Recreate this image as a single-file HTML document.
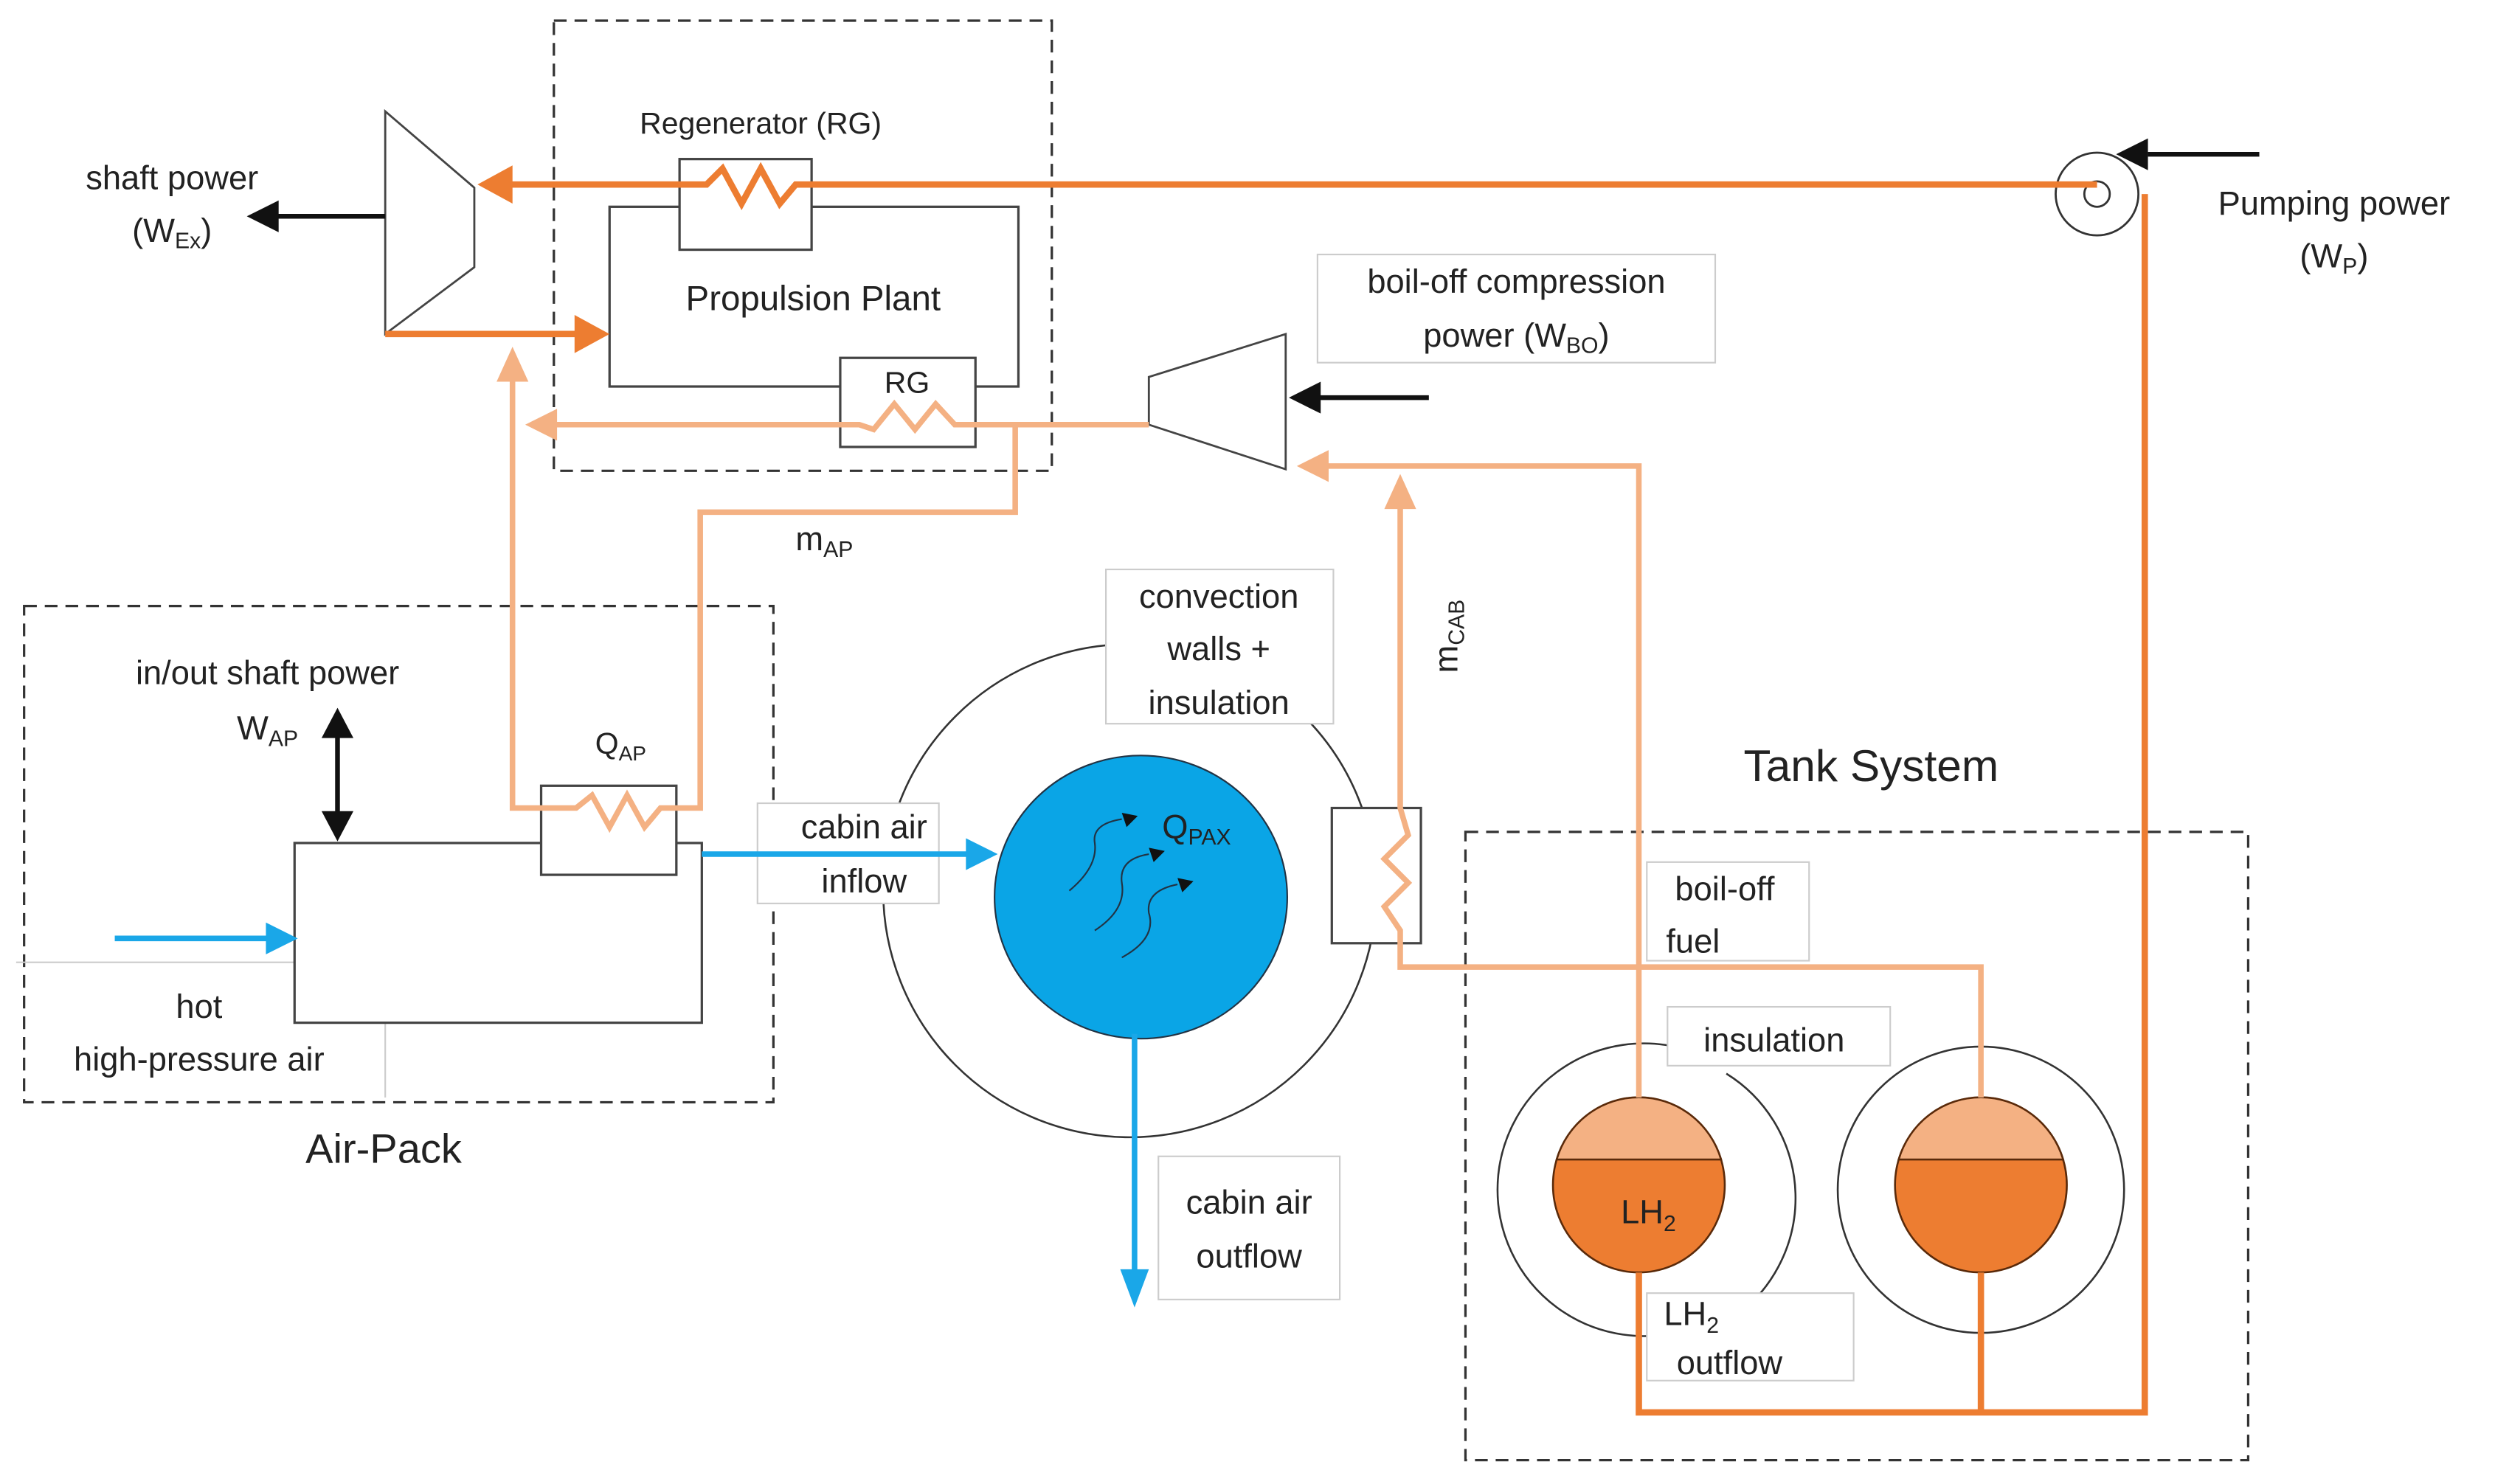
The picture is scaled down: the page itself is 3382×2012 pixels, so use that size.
<!DOCTYPE html>
<html><head><meta charset="utf-8"><style>
html,body{margin:0;padding:0;background:#fff;}
svg{display:block;}
text{font-family:"Liberation Sans",sans-serif;fill:#222;}
</style></head><body>
<svg width="3382" height="2012" viewBox="0 0 1568 933" xmlns="http://www.w3.org/2000/svg">
<rect width="1568" height="933" fill="#fff"/>

<!-- dashed boxes -->
<g fill="none" stroke="#333" stroke-width="1.5" stroke-dasharray="8,5">
<rect x="348" y="13" width="313" height="283"/>
<rect x="15" y="381" width="471" height="312"/>
<rect x="921" y="523" width="492" height="395"/>
</g>

<!-- big cabin circle -->
<circle cx="710" cy="560" r="155" fill="none" stroke="#333" stroke-width="1.2"/>

<!-- tanks rings -->
<g fill="none" stroke="#333" stroke-width="1.2">
<path d="M1060,660 A92,92 0 1 0 1060,836"/>
<path d="M1085,675 A92,92 0 0 1 1090,828"/>
<circle cx="1245" cy="748" r="90"/>
</g>

<!-- label boxes (light grey, white fill) -->
<g fill="#fff" stroke="#ccc" stroke-width="1">
<rect x="828" y="160" width="250" height="68"/>
<rect x="695" y="358" width="143" height="97"/>
<rect x="476" y="505" width="114" height="63"/>
<rect x="728" y="727" width="114" height="90"/>
<rect x="1035" y="542" width="102" height="62"/>
<rect x="1048" y="633" width="140" height="37"/>
<rect x="1035" y="813" width="130" height="55"/>
</g>
<g fill="none" stroke="#ccc" stroke-width="1"><path d="M10,605 H185 M242,643 V690"/></g>

<ellipse cx="717" cy="564" rx="92" ry="89" fill="#0AA5E6" stroke="#234" stroke-width="1"/>
<g fill="none" stroke="#234" stroke-width="1">
<path d="M672,560 Q690,545 688,530 Q686,518 705,515"/>
<path d="M688,585 Q708,572 705,555 Q703,540 722,537"/>
<path d="M705,602 Q727,590 722,574 Q720,560 740,556"/>
</g>
<g fill="#111"><path d="M705,511 l10,2 -7,7z"/><path d="M722,533 l10,2 -7,7z"/><path d="M740,552 l10,2 -7,7z"/></g>

<!-- tanks -->
<g stroke="#5a2a0a" stroke-width="1.2">
<ellipse cx="1030" cy="745" rx="54" ry="55" fill="#ED7D31"/>
<path d="M978.3,729 A54,55 0 0 1 1081.7,729 Z" fill="#F4B183"/>
<ellipse cx="1245" cy="745" rx="54" ry="55" fill="#ED7D31"/>
<path d="M1193.3,729 A54,55 0 0 1 1296.7,729 Z" fill="#F4B183"/>
</g>

<!-- pump -->
<circle cx="1318" cy="122" r="26" fill="#fff" stroke="#333" stroke-width="1.3"/>
<circle cx="1318" cy="122" r="8" fill="none" stroke="#333" stroke-width="1.3"/>

<!-- boxes -->
<g fill="#fff" stroke="#444" stroke-width="1.5">
<rect x="383" y="130" width="257" height="113"/>
<rect x="427" y="100" width="83" height="57"/>
<rect x="528" y="225" width="85" height="56"/>
<rect x="185" y="530" width="256" height="113"/>
<rect x="340" y="494" width="85" height="56"/>
<rect x="837" y="508" width="56" height="85"/>
</g>
<!-- turbine / compressor -->
<g fill="none" stroke="#444" stroke-width="1.3">
<path d="M242,70 L298,118 V168 L242,210 Z"/>
<path d="M722,237 L808,210 V295 L722,267 Z"/>
</g>

<!-- dark orange lines -->
<g fill="none" stroke="#ED7D31" stroke-width="4">
<path d="M1318,116 H500 L490,128 478,106 466,128 454,106 444,116 H310"/>
<path d="M242,210 H368"/>
<path d="M1348,122 V888 H1030 V800 M1245,888 V800"/>
</g>
<g fill="#ED7D31"><path d="M300,116 l22,-12 v24z"/><path d="M383,210 l-22,-12 v24z"/></g>

<!-- light orange lines -->
<g fill="none" stroke="#F4B183" stroke-width="3.5">
<path d="M722,267 H600 L588,254 575,270 562,254 549,270 540,267 H345"/>
<path d="M638,267 V322 H440 V508 H425 L415,508 405,520 394,500 383,520 372,500 362,508 H322 V232"/>
<path d="M1030,690 V293 H830"/>
<path d="M1245,690 V608 H880 V593 L880,585 870,570 885,555 870,540 885,525 880,508 V312"/>
</g>
<g fill="#F4B183"><path d="M330,267 l20,-10 v20z"/><path d="M322,218 l-10,22 h20z"/><path d="M815,293 l20,-10 v20z"/><path d="M880,298 l-10,22 h20z"/></g>

<!-- blue -->
<g stroke="#1AA7E8" stroke-width="3.5" fill="none"><path d="M72,590 H170 M441,537 H608 M713,650 V800"/></g>
<g fill="#1AA7E8"><path d="M187,590 l-20,-10 v20z"/><path d="M627,537 l-20,-10 v20z"/><path d="M713,822 l-9,-24 h18z"/></g>

<!-- black arrows -->
<g stroke="#111" stroke-width="3" fill="none"><path d="M242,136 H172 M898,250 H828 M1420,97 H1350 M212,462 V512"/></g>
<g fill="#111"><path d="M155,136 l20,-10 v20z"/><path d="M810,250 l20,-10 v20z"/><path d="M1330,97 l20,-10 v20z"/><path d="M212,445 l-10,19 h20z"/><path d="M212,529 l-10,-19 h20z"/></g>

<!-- text -->
<g font-size="21" text-anchor="middle">
<text x="108" y="119">shaft power</text>
<text x="108" y="152">(W<tspan font-size="14" dy="4">Ex</tspan><tspan dy="-4">)</tspan></text>
<text x="478" y="84" font-size="19">Regenerator (RG)</text>
<text x="511" y="195" font-size="22">Propulsion Plant</text>
<text x="570" y="247" font-size="19">RG</text>
<text x="953" y="184">boil-off compression</text>
<text x="953" y="218">power (W<tspan font-size="14" dy="4">BO</tspan><tspan dy="-4">)</tspan></text>
<text x="1467" y="135">Pumping power</text>
<text x="1467" y="168">(W<tspan font-size="14" dy="4">P</tspan><tspan dy="-4">)</tspan></text>
<text x="518" y="346">m<tspan font-size="14" dy="4">AP</tspan></text>
<text x="766" y="382">convection</text>
<text x="766" y="415">walls +</text>
<text x="766" y="449">insulation</text>
<text x="168" y="430">in/out shaft power</text>
<text x="168" y="465">W<tspan font-size="14" dy="4">AP</tspan></text>
<text x="390" y="474" font-size="19">Q<tspan font-size="13" dy="4">AP</tspan></text>
<text x="543" y="527">cabin air</text>
<text x="543" y="561">inflow</text>
<text x="752" y="527">Q<tspan font-size="14" dy="4">PAX</tspan></text>
<text x="125" y="640">hot</text>
<text x="125" y="673">high-pressure air</text>
<text x="241" y="731" font-size="26">Air-Pack</text>
<text x="785" y="763">cabin air</text>
<text x="785" y="797">outflow</text>
<text x="1176" y="491" font-size="28">Tank System</text>
<text x="1084" y="566">boil-off</text>
<text x="1064" y="599">fuel</text>
<text x="1115" y="661">insulation</text>
<text x="1036" y="769">LH<tspan font-size="14" dy="5">2</tspan></text>
<text x="1063" y="833">LH<tspan font-size="14" dy="5">2</tspan></text>
<text x="1087" y="864">outflow</text>
<text transform="translate(916,400) rotate(-90)">m<tspan font-size="14" dy="4">CAB</tspan></text>
</g>
</svg>
</body></html>
